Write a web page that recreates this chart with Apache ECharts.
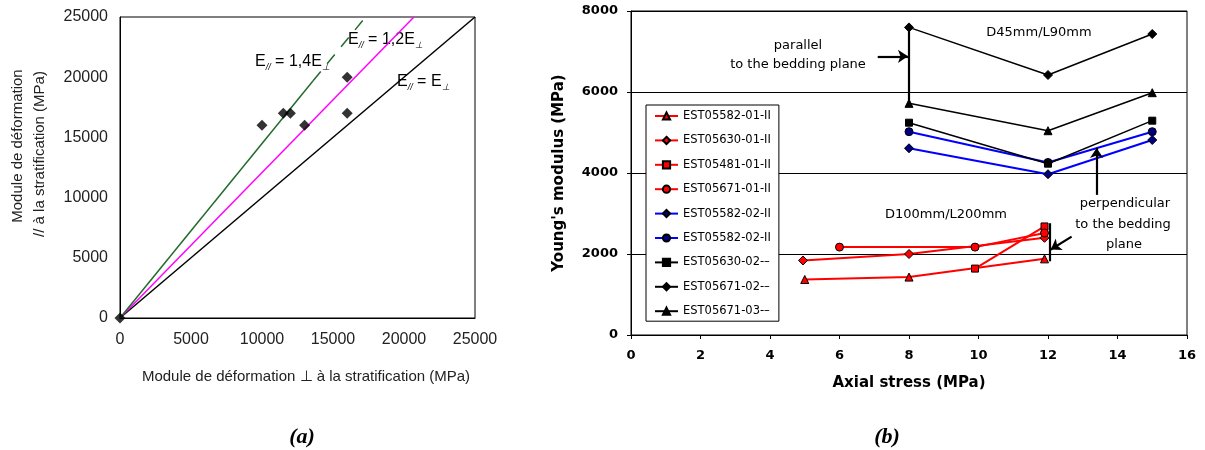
<!DOCTYPE html>
<html><head><meta charset="utf-8">
<script src="https://cdn.jsdelivr.net/npm/echarts@6/dist/echarts.min.js"></script>
<style>html,body{margin:0;padding:0;background:#fff}#c{width:1205px;height:450px}</style>
</head><body><div id="c"></div>
<script>
// ---------- Panel (a) data ----------
const aPerp = [0, 10000, 11500, 12000, 13000, 16000, 16000];   // x: module perpendicular
const aPar  = [0, 16000, 17000, 17000, 16000, 20000, 17000];   // y: module parallel
const aLineEqual   = [[0, 0], [25000, 25000]];                  // E// = E⊥
const aLine12      = [[0, 0], [20700, 25000]];                  // E// = 1,2E⊥
const aLine14Solid = [[0, 0], [13600, 19700]];                  // E// = 1,4E⊥ (solid part)
const aLine14Dash  = [[13600, 19700], [17300, 25000]];          // E// = 1,4E⊥ (dashed part)
const aTicks = [0, 5000, 10000, 15000, 20000, 25000];

// ---------- Panel (b) data ----------
const bLabels = ['EST05582-01-II', 'EST05630-01-II', 'EST05481-01-II', 'EST05671-01-II',
                 'EST05582-02-II', 'EST05582-02-II', 'EST05630-02-–', 'EST05671-02-–', 'EST05671-03-–'];
const b1x = [5, 8, 11.9],    b1y = [1370, 1430, 1880];
const b2x = [4.95, 8, 11.9], b2y = [1840, 2000, 2400];
const b3x = [9.9, 11.9],     b3y = [1640, 2680];
const b4x = [6, 9.9, 11.9],  b4y = [2170, 2170, 2520];
const b5x = [8, 12, 15],     b5y = [4610, 3970, 4815];
const b6x = [8, 12, 15],     b6y = [5020, 4260, 5020];
const b7x = [8, 12, 15],     b7y = [5242, 4230, 5292];
const b8x = [8, 12, 15],     b8y = [7595, 6420, 7432];
const b9x = [8, 12, 15],     b9y = [5720, 5044, 5983];
const bXTicks = [0, 2, 4, 6, 8, 10, 12, 14, 16];
const bYTicks = [0, 2000, 4000, 6000, 8000];

const zip = (xs, ys) => xs.map((x, i) => [x, ys[i]]);
const bKeys = bLabels.map((l, i) => 's' + i);
const plain = (v) => String(v);

const chart = echarts.init(document.getElementById('c'), null, {renderer: 'canvas'});

const RED = '#ff0000', BLUE = '#0000ff', BLK = '#000000';
const symSize = {triangle: 8, diamond: 9, rect: 7, circle: 8};
function bSeries(i, xs, ys, symbol, lineColor, fill, lw) {
  return {
    name: bKeys[i], type: 'line', xAxisIndex: 1, yAxisIndex: 1,
    data: zip(xs, ys), symbol: symbol, symbolSize: symSize[symbol],
    showSymbol: true, silent: true,
    lineStyle: {color: lineColor, width: lw},
    itemStyle: {color: fill, borderColor: '#000', borderWidth: 1},
    emphasis: {disabled: true}, z: 3
  };
}

const sansA = 'Liberation Sans';
const sansB = 'DejaVu Sans';

const rich = (color) => ({
  n: {fontFamily: sansA, fontSize: 16, color: color, lineHeight: 20, verticalAlign: 'middle'},
  s: {fontFamily: sansA, fontSize: 9, color: color, lineHeight: 10, verticalAlign: 'bottom', fontStyle: 'italic'}
});

const option = {
  animation: false,
  backgroundColor: '#fff',
  grid: [
    {left: 120, top: 17, width: 355, height: 301, show: true, borderColor: '#000', borderWidth: 1, backgroundColor: 'transparent'},
    {left: 631, top: 11, width: 556, height: 324, show: true, borderColor: '#000', borderWidth: 1, backgroundColor: 'transparent'}
  ],
  xAxis: [
    {type: 'value', gridIndex: 0, min: aTicks[0], max: aTicks[aTicks.length - 1], interval: 5000,
     axisLine: {lineStyle: {color: '#000', width: 1}}, axisTick: {show: false}, splitLine: {show: false},
     axisLabel: {fontFamily: sansA, fontSize: 16, color: '#222', margin: 14, formatter: plain}},
    {type: 'value', gridIndex: 1, min: bXTicks[0], max: bXTicks[bXTicks.length - 1], interval: 2,
     axisLine: {lineStyle: {color: '#000', width: 1}}, axisTick: {show: true, length: 4, lineStyle: {color: '#000'}},
     splitLine: {show: false},
     axisLabel: {fontFamily: sansB, fontWeight: 'bold', fontSize: 13, color: '#000', margin: 14, formatter: plain}}
  ],
  yAxis: [
    {type: 'value', gridIndex: 0, min: aTicks[0], max: aTicks[aTicks.length - 1], interval: 5000,
     axisLine: {show: true, lineStyle: {color: '#000', width: 1}}, axisTick: {show: false}, splitLine: {show: false},
     axisLabel: {fontFamily: sansA, fontSize: 16, color: '#222', margin: 12, formatter: plain}},
    {type: 'value', gridIndex: 1, min: bYTicks[0], max: bYTicks[bYTicks.length - 1], interval: 2000,
     axisLine: {show: true, lineStyle: {color: '#000', width: 1}}, axisTick: {show: true, length: 4, lineStyle: {color: '#000'}},
     splitLine: {show: true, lineStyle: {color: '#000', width: 1}},
     axisLabel: {fontFamily: sansB, fontWeight: 'bold', fontSize: 13, color: '#000', margin: 13, formatter: plain}}
  ],
  legend: {
    orient: 'vertical', left: 646, top: 105,
    data: bKeys,
    formatter: (n) => bLabels[bKeys.indexOf(n)],
    itemWidth: 23, itemHeight: 9, itemGap: 10.4,
    textStyle: {fontFamily: sansB, fontSize: 11.5, color: '#000', lineHeight: 14},
    backgroundColor: '#fff', borderColor: '#000', borderWidth: 1, padding: [4, 8, 3, 8],
    selectedMode: false
  },
  series: [
    // panel (a) reference lines
    {type: 'line', xAxisIndex: 0, yAxisIndex: 0, data: aLineEqual, showSymbol: false, symbol: 'none', silent: true,
     lineStyle: {color: '#000', width: 1.5}, z: 1},
    {type: 'line', xAxisIndex: 0, yAxisIndex: 0, data: aLine12, showSymbol: false, symbol: 'none', silent: true,
     lineStyle: {color: '#ff00ff', width: 1.5}, z: 1},
    {type: 'line', xAxisIndex: 0, yAxisIndex: 0, data: aLine14Solid, showSymbol: false, symbol: 'none', silent: true,
     lineStyle: {color: '#236b2c', width: 1.5}, z: 1},
    {type: 'line', xAxisIndex: 0, yAxisIndex: 0, data: aLine14Dash, showSymbol: false, symbol: 'none', silent: true,
     lineStyle: {color: '#236b2c', width: 1.5, type: [12, 10]}, z: 1},
    // panel (a) points
    {type: 'scatter', xAxisIndex: 0, yAxisIndex: 0, data: zip(aPerp, aPar), symbol: 'diamond', symbolSize: 11,
     itemStyle: {color: '#000'}, silent: true, z: 4},
    // panel (b)
    bSeries(0, b1x, b1y, 'triangle', RED, RED, 2),
    bSeries(1, b2x, b2y, 'diamond', RED, RED, 2),
    bSeries(2, b3x, b3y, 'rect', RED, RED, 2),
    bSeries(3, b4x, b4y, 'circle', RED, RED, 2),
    bSeries(4, b5x, b5y, 'diamond', BLUE, '#000080', 2),
    bSeries(5, b6x, b6y, 'circle', BLUE, '#000080', 2),
    bSeries(6, b7x, b7y, 'rect', BLK, BLK, 1.5),
    bSeries(7, b8x, b8y, 'diamond', BLK, BLK, 1.5),
    bSeries(8, b9x, b9y, 'triangle', BLK, BLK, 1.5),
    // panel (b) annotation brackets and arrows
    {type: 'line', xAxisIndex: 1, yAxisIndex: 1, data: [], silent: true, z: 5,
     markLine: {
       silent: true, animation: false, symbol: ['none', 'arrow'], symbolSize: 10,
       label: {show: false}, emphasis: {disabled: true},
       lineStyle: {color: '#000', width: 2.2, type: 'solid'},
       data: [
         [{coord: [8, 7595], symbol: 'none'}, {coord: [8, 5720], symbol: 'none'}],
         [{coord: [7.1, 6880]}, {coord: [7.97, 6880]}],
         [{coord: [12.05, 2760], symbol: 'none'}, {coord: [12.05, 1820], symbol: 'none'}],
         [{coord: [12.68, 2430]}, {coord: [12.08, 2110]}],
         [{coord: [13.4, 3460]}, {coord: [13.4, 4620]}]
       ]
     }}
  ],
  graphic: [
    // panel (a) texts
    {type: 'text', x: 18, y: 146, rotation: Math.PI / 2,
     style: {text: 'Module de déformation', fontFamily: sansA, fontSize: 15, fill: '#222', textAlign: 'center', textVerticalAlign: 'middle'}},
    {type: 'text', x: 40, y: 154, rotation: Math.PI / 2,
     style: {text: '// à la stratification (MPa)', fontFamily: sansA, fontSize: 15, fill: '#222', textAlign: 'center', textVerticalAlign: 'middle'}},
    {type: 'text', x: 306, y: 377,
     style: {text: 'Module de déformation ⊥ à la stratification (MPa)', fontFamily: sansA, fontSize: 15, fill: '#222', textAlign: 'center', textVerticalAlign: 'middle'}},
    {type: 'text', x: 255, y: 52,
     style: {text: '{n|E}{s|//}{n| = 1,4E}{s|⊥}', rich: rich('#236b2c'), textAlign: 'left'}},
    {type: 'text', x: 348, y: 30,
     style: {text: '{n|E}{s|//}{n| = 1,2E}{s|⊥}', rich: rich('#ff00ff'), textAlign: 'left'}},
    {type: 'text', x: 397, y: 72,
     style: {text: '{n|E}{s|//}{n| = E}{s|⊥}', rich: rich('#111'), textAlign: 'left'}},
    // panel (b) texts
    {type: 'text', x: 559, y: 173, rotation: Math.PI / 2,
     style: {text: "Young's modulus (MPa)", fontFamily: sansB, fontWeight: 'bold', fontSize: 15, fill: '#000', textAlign: 'center', textVerticalAlign: 'middle'}},
    {type: 'text', x: 909, y: 383,
     style: {text: 'Axial stress (MPa)', fontFamily: sansB, fontWeight: 'bold', fontSize: 15, fill: '#000', textAlign: 'center', textVerticalAlign: 'middle'}},
    {type: 'text', x: 1039, y: 33,
     style: {text: 'D45mm/L90mm', fontFamily: sansB, fontSize: 13, fill: '#000', textAlign: 'center', textVerticalAlign: 'middle'}},
    {type: 'text', x: 946, y: 215,
     style: {text: 'D100mm/L200mm', fontFamily: sansB, fontSize: 13, fill: '#000', textAlign: 'center', textVerticalAlign: 'middle'}},
    {type: 'text', x: 798, y: 46,
     style: {text: 'parallel', fontFamily: sansB, fontSize: 13, fill: '#000', textAlign: 'center', textVerticalAlign: 'middle'}},
    {type: 'text', x: 798, y: 65,
     style: {text: 'to the bedding plane', fontFamily: sansB, fontSize: 13, fill: '#000', textAlign: 'center', textVerticalAlign: 'middle'}},
    {type: 'text', x: 1125, y: 204,
     style: {text: 'perpendicular', fontFamily: sansB, fontSize: 13, fill: '#000', textAlign: 'center', textVerticalAlign: 'middle'}},
    {type: 'text', x: 1123, y: 225,
     style: {text: 'to the bedding', fontFamily: sansB, fontSize: 13, fill: '#000', textAlign: 'center', textVerticalAlign: 'middle'}},
    {type: 'text', x: 1124, y: 245,
     style: {text: 'plane', fontFamily: sansB, fontSize: 13, fill: '#000', textAlign: 'center', textVerticalAlign: 'middle'}},
    // captions
    {type: 'text', x: 302, y: 437,
     style: {text: '(a)', fontFamily: 'Liberation Serif', fontStyle: 'italic', fontWeight: 'bold', fontSize: 22, fill: '#000', textAlign: 'center', textVerticalAlign: 'middle'}},
    {type: 'text', x: 887, y: 437,
     style: {text: '(b)', fontFamily: 'Liberation Serif', fontStyle: 'italic', fontWeight: 'bold', fontSize: 22, fill: '#000', textAlign: 'center', textVerticalAlign: 'middle'}}
  ]
};
chart.setOption(option);
</script>
</body></html>
